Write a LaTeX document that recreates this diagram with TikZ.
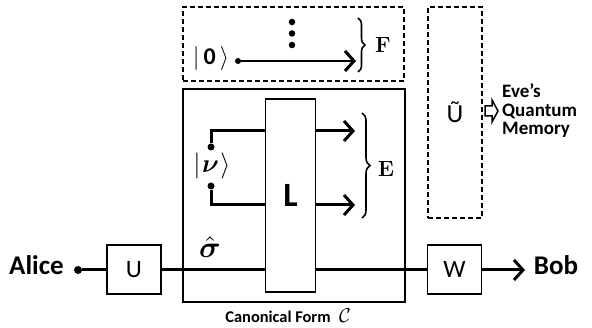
\documentclass[tikz,border=0pt]{standalone}
\usepackage{amsmath, amssymb, bm}
\usepackage{fontspec}
\newfontfamily\calib{Carlito}
\usetikzlibrary{arrows.meta, decorations.pathreplacing}

\begin{document}
\begin{tikzpicture}[x=1pt, y=-1pt,
        caja/.style={rectangle, draw, line width=1.2pt, fill=white, minimum width=54pt, minimum height=49pt, inner sep=0pt, font=\calib\fontsize{25}{25}\selectfont},
        marco/.style={rectangle, draw, line width=1.1pt, dash pattern=on 5pt off 3pt, inner sep=0pt},
        cable/.style={line width=3pt},
        flecha/.style={cable, -{Straight Barb[length=9pt, width=20pt, line width=3pt]}},
        punto/.style={circle, fill, inner sep=0pt, minimum size=8pt},
        llave/.style={decorate, decoration={brace, amplitude=8pt}, line width=1.6pt},
        nombre/.style={font=\calib\bfseries\fontsize{27}{27}\selectfont, inner sep=0pt}]
        \useasboundingbox (0,0) rectangle (592,328);
        % cajas de fondo
        \node[rectangle, draw, line width=1.2pt, minimum width=222pt, minimum height=213pt] (canon) at (294,195.5) {};
        \node[marco, minimum width=221pt, minimum height=74pt] (Fbox) at (293.5,44) {};
        \node[marco, minimum width=54pt, minimum height=211pt] (Ubox) at (455,112.5) {};
        \node[caja, minimum width=50pt, minimum height=193pt, font=\calib\bfseries\fontsize{34}{34}\selectfont] (L) at (290.5,195.5) {L};
        \node[caja] (U) at (134,269.5) {U};
        \node[caja] (W) at (454.5,269.5) {W};
        % extremos
        \node[nombre, anchor=base] (alice) at (36.5,275) {Alice};
        \node[nombre, anchor=base] (bob) at (556,275) {Bob};
        \node[punto] (pA) at (78,270) {};
        \coordinate (fin) at (525,270);
        \draw[cable] (pA) -- (U.west |- pA);
        \draw[cable] (U.east |- pA) -- (L.west |- pA);
        \draw[cable] (L.east |- pA) -- (W.west |- pA);
        \draw[flecha] (W.east |- fin) -- (fin);
        \node[scale=3, inner sep=0pt] (sigma) at (210,247) {$\bm{\hat{\sigma}}$};
        % ancilla nu
        \node[scale=2.6, inner sep=0pt] (ketnu) at (212,166) {$|\mkern1mu\bm{\nu}\mkern1mu\rangle$};
        \node[punto, minimum size=7pt] (nuA) at (211,147) {};
        \node[punto, minimum size=7pt] (nuB) at (211,186) {};
        \coordinate (e1) at (355,131);
        \coordinate (e2) at (355,205);
        \draw[cable] (nuA) |- (L.west |- e1);
        \draw[cable] (nuB) |- (L.west |- e2);
        \draw[flecha] (L.east |- e1) -- (e1);
        \draw[flecha] (L.east |- e2) -- (e2);
        \draw[llave] (362,113) -- (362,218);
        \node[font=\bfseries\fontsize{22}{22}\selectfont] (E) at (386,169) {E};
        % ancilla F
        \node[scale=2.4, inner sep=0pt] (ket0) at (211,59) {$|\,\text{\calib\bfseries 0}\,\rangle$};
        \node[punto, minimum size=6pt] (p0) at (238,61) {};
        \coordinate (e0) at (356,61);
        \draw[flecha, line width=2.6pt] (p0) -- (e0);
        \foreach \yy [count=\i] in {22,33.5,45} {
            \node[punto, minimum size=6.5pt] (d\i) at (292,\yy) {};
        }
        \draw[llave, decoration={amplitude=7pt}] (358,18) -- (358,72);
        \node[font=\bfseries\fontsize{22}{22}\selectfont] (F) at (383,45) {F};
        % Eve
        \node[font=\calib\fontsize{26}{26}\selectfont] (Ut) at (455,112) {\~{U}};
        \draw[line width=1.5pt, line join=miter] (485,106) -- (492,106) -- (492,100) -- (498,111) -- (492,122) -- (492,116) -- (485,116) -- cycle;
        \node[anchor=west, align=left, inner sep=0pt, font=\calib\bfseries\fontsize{19}{18.5}\selectfont] (eve) at (502,111) {Eve’s\\Quantum\\Memory};
        % etiqueta
        \node[font=\calib\bfseries\fontsize{16.4}{16}\selectfont] (clab) at (278,317) {Canonical Form};
        \node[scale=2, inner sep=0pt] (cC) at (345,316) {$\mathcal{C}$};
    \end{tikzpicture}
\end{document}
